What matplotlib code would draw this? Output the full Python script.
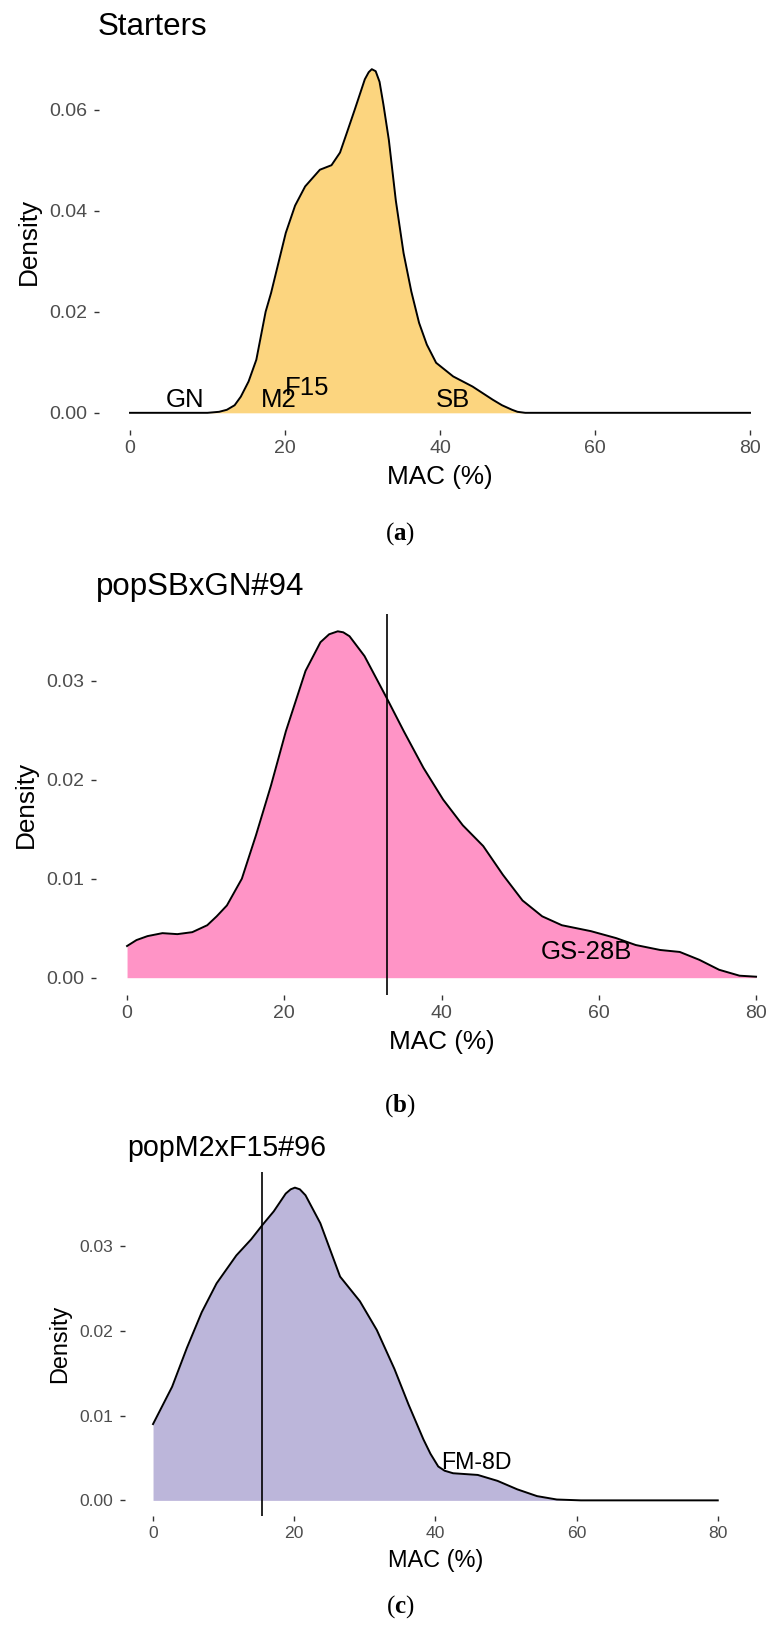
#!/usr/bin/env python
# -*- coding: utf-8 -*-
"""MAC (%) density curves: starters and two populations"""

import matplotlib
matplotlib.use('Agg')
import matplotlib.pyplot as plt

plt.rcParams['font.family'] = ['Liberation Sans', 'DejaVu Sans']
plt.rcParams['mathtext.fontset'] = 'custom'
plt.rcParams['mathtext.rm'] = 'Liberation Serif'
plt.rcParams['mathtext.bf'] = 'Liberation Serif:bold'

# ---- data ----
starters_x = [0, 10, 11.5, 12.5, 13.5, 14.3, 15.3, 16.3, 17.5, 18.2, 20.1, 21.3, 22.6, 24.5,
              26.0, 27.1, 28.0, 29.0, 30.3, 30.8, 31.2, 31.7, 32.2, 32.7, 33.4, 34.3, 35.3,
              36.3, 37.3, 38.3, 39.5, 41.7, 44.2, 46.8, 48.0, 49.3, 50.0, 51, 80]
starters_y = [0, 0, 0.0002, 0.0006, 0.0015, 0.0032, 0.0062, 0.0105, 0.0200, 0.0237, 0.0356,
              0.0410, 0.0448, 0.0481, 0.0490, 0.0515, 0.0555, 0.0600, 0.0660, 0.0674, 0.0680,
              0.0676, 0.0655, 0.0610, 0.0540, 0.0420, 0.0316, 0.0240, 0.0178, 0.0135, 0.0099,
              0.0072, 0.0052, 0.0026, 0.0015, 0.0006, 0.0002, 0, 0]
starters_names = ['GN', 'M2', 'F15', 'SB']
starters_lx = [7.1, 19.2, 22.8, 41.7]
starters_ly = [0.0026, 0.0026, 0.0050, 0.0026]

popSB_x = [0, 1.2, 2.6, 4.5, 6.4, 8.3, 10.2, 11.4, 12.7, 14.6, 16.4, 18.3, 20.2, 22.7, 24.6,
           25.7, 26.8, 27.5, 28.3, 30.2, 33.0, 35.2, 37.7, 40.2, 42.7, 45.3, 47.8, 50.3, 52.8,
           55.3, 59.0, 62.2, 64.7, 67.8, 70.3, 72.8, 75.3, 77.9, 80]
popSB_y = [0.0032, 0.0038, 0.0042, 0.0045, 0.0044, 0.0046, 0.0053, 0.0062, 0.0073, 0.0100,
           0.0144, 0.0194, 0.0249, 0.0310, 0.0339, 0.0347, 0.0350, 0.0349, 0.0345, 0.0325,
           0.0283, 0.0249, 0.0212, 0.0180, 0.0154, 0.0133, 0.0104, 0.0078, 0.0062, 0.0053,
           0.0047, 0.0040, 0.0033, 0.0028, 0.0026, 0.0018, 0.0008, 0.0002, 0.0001]
popSB_mean = 33.0
popSB_label = ('GS-28B', 58.4, 0.0026)

popM2_x = [0, 2.7, 4.8, 6.9, 9.0, 11.8, 13.9, 15.5, 17.1, 18.8, 19.5, 20.1, 20.8, 21.6, 23.7,
           26.5, 29.3, 31.7, 34.2, 36.2, 38.3, 39.3, 40.4, 41.3, 42.5, 46.0, 48.8, 51.6, 54.4,
           57.2, 60.6, 80]
popM2_y = [0.0090, 0.0134, 0.0180, 0.0222, 0.0256, 0.0289, 0.0308, 0.0325, 0.0341, 0.0362,
           0.0367, 0.0369, 0.0367, 0.0360, 0.0327, 0.0264, 0.0235, 0.0201, 0.0155, 0.0113,
           0.0072, 0.0055, 0.0040, 0.0035, 0.0032, 0.0030, 0.0023, 0.0013, 0.0005, 0.0001,
           0, 0]
popM2_mean = 15.5
popM2_label = ('FM-8D', 45.8, 0.0045)

W, H = 769, 1630
fig = plt.figure(figsize=(W / 100, H / 100), dpi=100)


def px_box(x0, y0, x1, y1):
    # pixel box (left, top, right, bottom) -> figure fraction rect
    return [x0 / W, 1 - y1 / H, (x1 - x0) / W, (y1 - y0) / H]


def density_panel(rect, x, y, fill, yticks, sc=1.0, vline=None):
    ax = fig.add_axes(rect)
    ax.fill_between(x, 0, y, color=fill, lw=0)
    ax.plot(x, y, color='black', lw=1.4, solid_joinstyle='round')
    if vline is not None:
        ax.axvline(vline, color='black', lw=1.2)
    ymax = max(y)
    ax.set_xlim(-4, 84)
    ax.set_ylim(-0.05 * ymax, 1.05 * ymax)
    ax.set_xticks([0, 20, 40, 60, 80])
    ax.set_yticks(yticks)
    ax.set_yticklabels([f'{t:.2f}' for t in yticks])
    for s in ax.spines.values():
        s.set_visible(False)
    ax.tick_params(direction='out', length=3.6, width=1.0, color='#333333',
                   labelcolor='#4D4D4D', labelsize=14 * sc)
    ax.tick_params(axis='x', pad=3.5)
    ax.tick_params(axis='y', pad=4.5)
    ax.set_xlabel('MAC (%)', fontsize=18.8 * sc, labelpad=6)
    ax.set_ylabel('Density', fontsize=18.8 * sc, labelpad=6)
    ax.patch.set_alpha(0)
    return ax


# ============================================================
# (a) Starters
# ============================================================
ax1 = density_panel(px_box(99, 52, 781, 430), starters_x, starters_y, '#FCD57F',
                    [0, 0.02, 0.04, 0.06])
for name, lx, ly in zip(starters_names, starters_lx, starters_ly):
    ax1.text(lx, ly, name, fontsize=18.5, ha='center', va='center')
fig.text(98 / W, 1 - 35 / H, 'Starters', fontsize=22.5, va='baseline')

# ============================================================
# (b) popSBxGN#94
# ============================================================
ax2 = density_panel(px_box(95.6, 614, 787.5, 995), popSB_x, popSB_y, '#FF94C6',
                    [0, 0.01, 0.02, 0.03], vline=popSB_mean)
ax2.text(popSB_label[1], popSB_label[2], popSB_label[0], fontsize=18.5,
         ha='center', va='center')
fig.text(96 / W, 1 - 595 / H, 'popSBxGN#94', fontsize=22.5, va='baseline')

# ============================================================
# (c) popM2xF15#96
# ============================================================
ax3 = density_panel(px_box(124.8, 1172, 746, 1516), popM2_x, popM2_y, '#BCB6DA',
                    [0, 0.01, 0.02, 0.03], sc=0.9, vline=popM2_mean)
ax3.text(popM2_label[1], popM2_label[2], popM2_label[0], fontsize=16.7,
         ha='center', va='center')
fig.text(127 / W, 1 - 1156 / H, 'popM2xF15#96', fontsize=20.6, va='baseline')

# 子图标题 (a)(b)(c)
for lab, ypx in [('a', 534), ('b', 1106), ('c', 1607)]:
    fig.text(400 / W, 1 - ypx / H, '($\\mathbf{%s}$)' % lab, fontsize=18,
             family='Liberation Serif', ha='center', va='center')

fig.savefig('out.png', dpi=100, facecolor='white')
plt.close()
